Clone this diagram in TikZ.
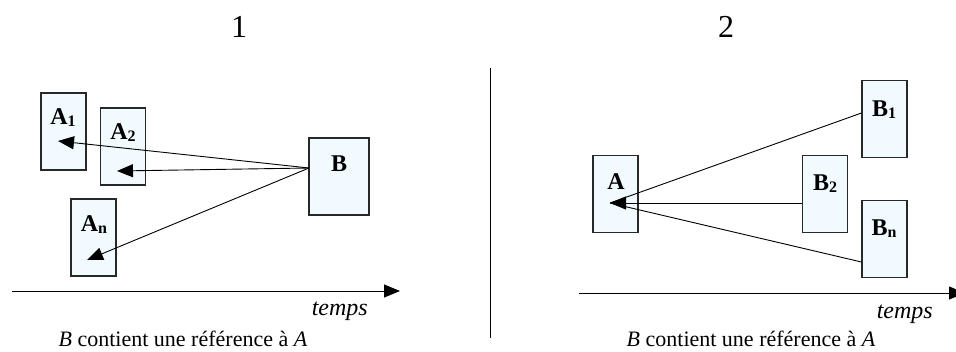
\documentclass[tikz,border=0pt]{standalone}
\usepackage{fontspec}
\setmainfont{Liberation Serif}
\usetikzlibrary{arrows.meta}
\definecolor{boxfill}{RGB}{240,250,255}
\definecolor{boxline}{RGB}{40,40,40}
\newcommand{\objlabel}[2]{\textbf{#1}{\fontsize{16}{16}\selectfont\raisebox{-2.5pt}{\textbf{#2}}}}
\begin{document}
\begin{tikzpicture}[x=1pt,y=-1pt,
  objbox/.style={draw=boxline,line width=1.1pt,fill=boxfill,minimum width=45pt,minimum height=77pt,inner sep=0pt},
  objtext/.style={font=\fontsize{24}{24}\selectfont,inner sep=0pt,anchor=base},
  ref/.style={line width=0.9pt,-{Triangle[length=16pt,width=13pt]}},
  link/.style={line width=0.9pt},
  axis/.style={line width=1pt,-{Triangle[length=16pt,width=13pt]}},
  caption/.style={font=\fontsize{22}{22}\selectfont,inner sep=0pt,anchor=base},
  timelabel/.style={font=\fontsize{24}{24}\selectfont\itshape,inner sep=0pt,anchor=base east},
  title/.style={font=\fontsize{32}{32}\selectfont,inner sep=0pt,anchor=base}]
\useasboundingbox (0,0) rectangle (956,351);

% panel titles and divider
\node[title] (t1) at (239,37) {1};
\node[title] (t2) at (726,37) {2};
\draw[line width=0.8pt] (490,68) -- (490,338);

% ---- panel 1: one B referring to several A objects
\node[objbox] (A1) at (63.5,131.5) {};
\node[objbox] (A2) at (123,146.5) {};
\node[objbox] (An) at (93.5,237.5) {};
\node[objbox,minimum width=60pt] (B) at (339,176.5) {};
\node[objtext] (lA1) at (63,124) {\objlabel{A}{1}};
\node[objtext] (lA2) at (123,139) {\objlabel{A}{2}};
\node[objtext] (lAn) at (94,231) {\objlabel{A}{n}};
\node[objtext] (lB) at (339,171) {\textbf{B}};

\coordinate (bOut) at (309,168);
\coordinate (hA1) at (58,141);
\coordinate (hA2) at (117,171);
\coordinate (hAn) at (87,260);
\draw[ref] (bOut) -- (hA1);
\draw[ref] (bOut) -- (hA2);
\draw[ref] (bOut) -- (hAn);

\coordinate (ax1s) at (12,291);
\coordinate (ax1e) at (400,291);
\draw[axis] (ax1s) -- (ax1e);
\node[timelabel] (tm1) at (368,315) {temps};
\node[caption] (cap1) at (183,346) {\textit{B} contient une référence à \textit{A}};

% ---- panel 2: several B objects referring to one A
\node[objbox] (A) at (615.5,194) {};
\node[objbox] (B1) at (884.5,119) {};
\node[objbox] (B2) at (825,194) {};
\node[objbox] (Bn) at (884.5,239) {};
\node[objtext] (lA) at (616,189) {\textbf{A}};
\node[objtext] (lB1) at (884,116) {\objlabel{B}{1}};
\node[objtext] (lB2) at (825,190) {\objlabel{B}{2}};
\node[objtext] (lBn) at (884,235) {\objlabel{B}{n}};

\coordinate (hA) at (610,203);
\coordinate (o1) at (B1.west |- 0,113);
\coordinate (o2) at (B2.west |- 0,203);
\coordinate (on) at (Bn.west |- 0,262);
\draw[link] (o1) -- (hA);
\draw[link] (on) -- (hA);
\draw[ref] (o2) -- (hA);

\coordinate (ax2s) at (579,293);
\coordinate (ax2e) at (965,293);
\draw[axis] (ax2s) -- (ax2e);
\node[timelabel] (tm2) at (933,318) {temps};
\node[caption] (cap2) at (751,346) {\textit{B} contient une référence à \textit{A}};
\end{tikzpicture}
\end{document}
